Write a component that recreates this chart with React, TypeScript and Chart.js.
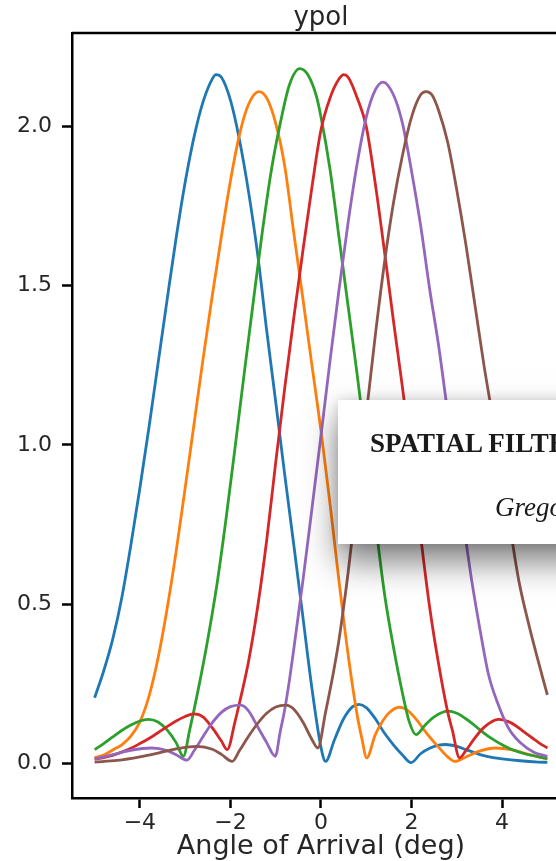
import React, { useEffect, useRef } from "react";
import { Chart, registerables } from "chart.js";

Chart.register(...registerables);

// ---------- data ----------
const seriesColors = ["#1f77b4", "#ff7f0e", "#2ca02c", "#d62728", "#9467bd", "#8c564b"];
const seriesNames = ["beam 1", "beam 2", "beam 3", "beam 4", "beam 5", "beam 6"];

const blueX = [-5.0, -4.8, -4.6, -4.4, -4.2, -4.0, -3.8, -3.6, -3.4, -3.2, -3.0, -2.8, -2.6, -2.4, -2.32, -2.2, -2.0, -1.8, -1.6, -1.4, -1.2, -1.0, -0.8, -0.6, -0.4, -0.2, 0.0, 0.1, 0.3, 0.5, 0.7, 0.84, 1.0, 1.2, 1.4, 1.6, 1.8, 1.99, 2.2, 2.4, 2.6, 2.75, 3.0, 3.2, 3.4, 3.6, 3.8, 4.0, 4.4, 4.8, 5.0];
const blueY = [0.206, 0.29, 0.39, 0.52, 0.685, 0.865, 1.055, 1.255, 1.455, 1.65, 1.825, 1.97, 2.08, 2.15, 2.163, 2.155, 2.083, 1.958, 1.795, 1.6, 1.36, 1.135, 0.905, 0.685, 0.46, 0.235, 0.05, 0.006, 0.075, 0.14, 0.178, 0.185, 0.175, 0.14, 0.095, 0.058, 0.026, 0.002, 0.03, 0.047, 0.057, 0.059, 0.053, 0.043, 0.033, 0.024, 0.018, 0.014, 0.008, 0.004, 0.003];

const orangeX = [-5.0, -4.8, -4.6, -4.4, -4.2, -4.0, -3.8, -3.6, -3.4, -3.2, -3.0, -2.8, -2.6, -2.4, -2.2, -2.0, -1.8, -1.6, -1.37, -1.2, -1.0, -0.8, -0.6, -0.4, -0.2, 0.0, 0.2, 0.4, 0.6, 0.8, 0.9, 1.01, 1.2, 1.36, 1.5, 1.73, 1.9, 2.14, 2.3, 2.58, 2.8, 2.95, 3.2, 3.5, 3.85, 4.2, 4.6, 5.0];
const orangeY = [0.018, 0.026, 0.042, 0.058, 0.085, 0.13, 0.21, 0.33, 0.485, 0.665, 0.865, 1.07, 1.275, 1.47, 1.655, 1.83, 1.975, 2.07, 2.11, 2.09, 2.01, 1.875, 1.665, 1.46, 1.25, 1.045, 0.815, 0.57, 0.34, 0.15, 0.08, 0.017, 0.09, 0.132, 0.158, 0.176, 0.168, 0.132, 0.1, 0.053, 0.02, 0.006, 0.02, 0.038, 0.048, 0.043, 0.027, 0.013];

const greenX = [-5.0, -4.8, -4.6, -4.4, -4.2, -4.0, -3.82, -3.6, -3.4, -3.2, -3.04, -2.9, -2.7, -2.5, -2.3, -2.1, -1.9, -1.7, -1.5, -1.3, -1.1, -0.9, -0.7, -0.47, -0.3, -0.1, 0.0, 0.2, 0.4, 0.6, 0.8, 1.0, 1.2, 1.4, 1.6, 1.8, 1.95, 2.1, 2.3, 2.5, 2.81, 3.0, 3.2, 3.4, 3.6, 3.8, 4.0, 4.2, 4.5, 5.0];
const greenY = [0.043, 0.062, 0.083, 0.103, 0.12, 0.133, 0.138, 0.13, 0.105, 0.065, 0.022, 0.105, 0.24, 0.39, 0.56, 0.765, 0.99, 1.22, 1.445, 1.665, 1.86, 2.01, 2.13, 2.182, 2.165, 2.095, 2.03, 1.865, 1.65, 1.435, 1.22, 0.99, 0.76, 0.535, 0.365, 0.22, 0.13, 0.09, 0.12, 0.146, 0.164, 0.157, 0.14, 0.118, 0.095, 0.075, 0.058, 0.044, 0.03, 0.015];

const redX = [-5.0, -4.8, -4.6, -4.4, -4.2, -4.0, -3.8, -3.6, -3.4, -3.2, -3.0, -2.81, -2.6, -2.4, -2.2, -2.07, -1.9, -1.8, -1.6, -1.4, -1.2, -1.0, -0.8, -0.6, -0.4, -0.2, 0.0, 0.2, 0.4, 0.505, 0.6, 0.8, 1.0, 1.2, 1.4, 1.6, 1.8, 2.0, 2.2, 2.4, 2.6, 2.8, 2.9, 3.06, 3.2, 3.4, 3.6, 3.92, 4.2, 4.5, 4.8, 5.0];
const redY = [0.013, 0.018, 0.025, 0.035, 0.047, 0.062, 0.078, 0.096, 0.115, 0.133, 0.147, 0.155, 0.145, 0.111, 0.07, 0.043, 0.13, 0.19, 0.32, 0.49, 0.7, 0.945, 1.18, 1.4, 1.61, 1.81, 1.99, 2.09, 2.15, 2.163, 2.155, 2.09, 2.0, 1.82, 1.61, 1.39, 1.18, 0.955, 0.715, 0.49, 0.31, 0.16, 0.105, 0.017, 0.04, 0.08, 0.113, 0.138, 0.127, 0.097, 0.066, 0.048];

const purpleX = [-5.0, -4.6, -4.2, -3.74, -3.4, -3.2, -2.96, -2.8, -2.6, -2.43, -2.2, -2.0, -1.77, -1.6, -1.4, -1.2, -1.01, -0.9, -0.8, -0.7, -0.6, -0.4, -0.2, 0.0, 0.2, 0.4, 0.6, 0.8, 1.0, 1.2, 1.37, 1.6, 1.8, 2.0, 2.2, 2.4, 2.6, 2.8, 3.0, 3.2, 3.33, 3.5, 3.7, 3.9, 4.14, 4.4, 4.7, 5.0];
const purpleY = [0.013, 0.027, 0.041, 0.048, 0.04, 0.027, 0.01, 0.04, 0.085, 0.122, 0.16, 0.178, 0.183, 0.165, 0.115, 0.065, 0.022, 0.1, 0.17, 0.258, 0.36, 0.573, 0.8, 1.03, 1.265, 1.49, 1.7, 1.885, 2.03, 2.115, 2.14, 2.1, 2.01, 1.86, 1.69, 1.49, 1.31, 1.1, 0.9, 0.7, 0.573, 0.43, 0.279, 0.19, 0.111, 0.065, 0.035, 0.022];

const brownX = [-5.0, -4.5, -4.0, -3.6, -3.2, -2.74, -2.4, -2.2, -1.96, -1.8, -1.6, -1.4, -1.2, -1.0, -0.77, -0.6, -0.4, -0.2, -0.07, 0.1, 0.28, 0.4, 0.6, 0.8, 1.0, 1.2, 1.4, 1.6, 1.8, 2.0, 2.2, 2.32, 2.45, 2.6, 2.8, 3.0, 3.2, 3.4, 3.6, 3.8, 4.0, 4.2, 4.37, 4.6, 4.8, 5.0];
const brownY = [0.004, 0.009, 0.02, 0.032, 0.045, 0.053, 0.044, 0.028, 0.006, 0.04, 0.085, 0.125, 0.157, 0.177, 0.183, 0.17, 0.13, 0.075, 0.048, 0.16, 0.29, 0.39, 0.6, 0.845, 1.095, 1.345, 1.57, 1.76, 1.91, 2.03, 2.1, 2.11, 2.1, 2.05, 1.95, 1.8, 1.63, 1.44, 1.25, 1.08, 0.9, 0.72, 0.573, 0.43, 0.32, 0.215];

const seriesXs = [blueX, orangeX, greenX, redX, purpleX, brownX];
const seriesYs = [blueY, orangeY, greenY, redY, purpleY, brownY];

const xTicks = [-4, -2, 0, 2, 4];
const xTickLabels = ["\u22124", "\u22122", "0", "2", "4"];
const yTicks = [0, 0.5, 1.0, 1.5, 2.0];
const yTickLabels = ["0.0", "0.5", "1.0", "1.5", "2.0"];

const chartTitle = "ypol";
const xAxisTitle = "Angle of Arrival (deg)";
const popupTitle = "SPATIAL FILTERING";
const popupAuthor = "Gregory";

const FONT = "'DejaVu Sans', sans-serif";

export default function App() {
  const canvasRef = useRef<HTMLCanvasElement | null>(null);

  useEffect(() => {
    const canvas = canvasRef.current;
    if (!canvas) return;

    const framePlugin = {
      id: "frame",
      afterDraw(chart: any) {
        const { ctx, chartArea } = chart;
        ctx.save();
        ctx.strokeStyle = "#000";
        ctx.lineWidth = 2.5;
        ctx.beginPath();
        ctx.moveTo(chartArea.left, chartArea.top);
        ctx.lineTo(chartArea.right, chartArea.top);
        ctx.lineTo(chartArea.right, chartArea.bottom);
        ctx.stroke();
        ctx.fillStyle = "#262626";
        ctx.font = `26px ${FONT}`;
        ctx.textAlign = "center";
        ctx.textBaseline = "middle";
        ctx.fillText(chartTitle, (chartArea.left + chartArea.right) / 2, 18);
        ctx.restore();
      },
    };

    const datasets = seriesXs.map((xs, i) => ({
      label: seriesNames[i],
      data: xs.map((x, j) => ({ x, y: seriesYs[i][j] })),
      borderColor: seriesColors[i],
      backgroundColor: seriesColors[i],
      borderWidth: 2.8,
      pointRadius: 0,
      showLine: true,
      fill: false,
      cubicInterpolationMode: "monotone" as const,
      order: seriesXs.length - i,
    }));

    const chart = new Chart(canvas, {
      type: "scatter",
      data: { datasets },
      plugins: [framePlugin],
      options: {
        animation: false,
        responsive: false,
        maintainAspectRatio: false,
        layout: { padding: { left: 7, right: 30, top: 33, bottom: 3 } },
        plugins: {
          legend: { display: false },
          tooltip: { enabled: false },
          title: { display: false },
        },
        scales: {
          x: {
            type: "linear",
            min: -5.5,
            max: 5.5,
            afterBuildTicks: (axis: any) => {
              axis.ticks = xTicks.map((v) => ({ value: v }));
            },
            ticks: {
              color: "#262626",
              font: { family: FONT, size: 22 },
              padding: 2.5,
              maxRotation: 0,
              callback: (v: any) => xTickLabels[xTicks.indexOf(Number(v))] ?? "",
            },
            grid: {
              display: true,
              drawOnChartArea: false,
              drawTicks: true,
              tickLength: 10,
              tickWidth: 2.5,
              tickColor: "#000",
            },
            border: { display: true, color: "#000", width: 2.5 },
            title: {
              display: true,
              text: xAxisTitle,
              color: "#262626",
              font: { family: FONT, size: 27, lineHeight: 0.8 },
              padding: { top: -3, bottom: 0 },
            },
          },
          y: {
            type: "linear",
            min: -0.109,
            max: 2.294,
            afterBuildTicks: (axis: any) => {
              axis.ticks = yTicks.map((v) => ({ value: v }));
            },
            ticks: {
              color: "#262626",
              font: { family: FONT, size: 22 },
              padding: 10,
              callback: (v: any) => yTickLabels[yTicks.indexOf(Number(v))] ?? "",
            },
            grid: {
              display: true,
              drawOnChartArea: false,
              drawTicks: true,
              tickLength: 10,
              tickWidth: 2.5,
              tickColor: "#000",
            },
            border: { display: true, color: "#000", width: 2.5 },
          },
        },
      },
    });

    return () => chart.destroy();
  }, []);

  return (
    <div
      style={{
        position: "fixed",
        left: 0,
        top: 0,
        width: 556,
        height: 861,
        overflow: "hidden",
        background: "#fff",
      }}
    >
      <canvas ref={canvasRef} width={600} height={861} style={{ display: "block" }} />
      <div
        style={{
          position: "absolute",
          left: 338,
          top: 400,
          width: 320,
          height: 144,
          background: "#fff",
          boxShadow: "0 18px 32px rgba(0,0,0,0.5), 0 0 12px rgba(0,0,0,0.14)",
        }}
      >
        <span
          style={{
            position: "absolute",
            left: 32,
            top: 28,
            whiteSpace: "nowrap",
            fontFamily: "'Liberation Serif', 'DejaVu Serif', serif",
            fontWeight: "bold",
            fontSize: 27,
            lineHeight: "30px",
            color: "#1a1a1a",
          }}
        >
          {popupTitle}
        </span>
        <span
          style={{
            position: "absolute",
            left: 157,
            top: 92,
            whiteSpace: "nowrap",
            fontFamily: "'Liberation Serif', 'DejaVu Serif', serif",
            fontStyle: "italic",
            fontSize: 27,
            lineHeight: "30px",
            color: "#1a1a1a",
          }}
        >
          {popupAuthor}
        </span>
      </div>
    </div>
  );
}
